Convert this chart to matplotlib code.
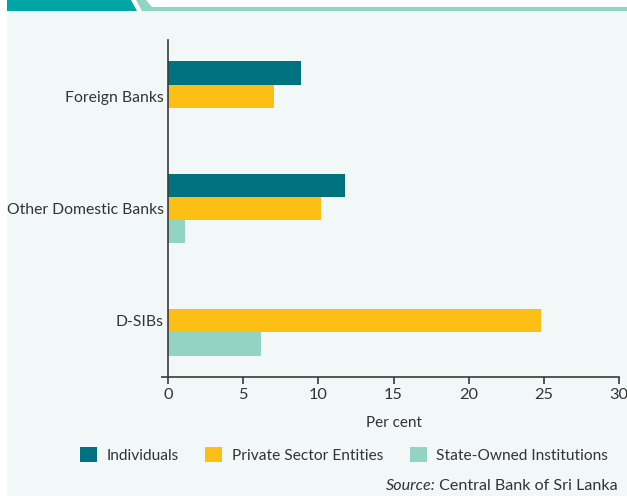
import matplotlib
matplotlib.use("Agg")
import matplotlib.pyplot as plt
from matplotlib.patches import Polygon, Rectangle, Patch

# ==========================================
# DATA
# ==========================================

categories = ["D-SIBs", "Other Domestic Banks", "Foreign Banks"]
individuals = [0, 11.8, 8.85]
private_sector = [24.8, 10.2, 7.05]
state_owned = [6.2, 1.15, 0]

series_names = ["Individuals", "Private Sector Entities", "State-Owned Institutions"]
x_ticks = [0, 5, 10, 15, 20, 25, 30]

# ==========================================
# THEME
# ==========================================

BACKGROUND = "#F2F8F8"
TEAL_DARK = "#00717F"
YELLOW = "#FDBF15"
TEAL_LIGHT = "#93D3C4"
HEADER = "#00A6A5"
TEXT = "#333333"
AXIS = "#3A3A3A"

plt.rcParams["font.family"] = ["Lato", "DejaVu Sans"]

W, H = 627, 496
fig = plt.figure(figsize=(W / 100, H / 100), dpi=100, facecolor="white")


def px(x, y):
    return (x / W, 1 - y / H)


# background panel + header strip
fig.patches.append(Rectangle(px(7, H), (W - 7) / W, (H - 11) / H,
                             transform=fig.transFigure, facecolor=BACKGROUND,
                             edgecolor="none", zorder=-2))
fig.patches.append(Polygon([px(7, 0), px(131, 0), px(137, 11), px(7, 11)],
                           closed=True, transform=fig.transFigure,
                           facecolor=HEADER, edgecolor="none", zorder=-1))
fig.patches.append(Polygon([px(136, 0), px(146, 0), px(152, 7), px(W, 7),
                            px(W, 11), px(142, 11)],
                           closed=True, transform=fig.transFigure,
                           facecolor=TEAL_LIGHT, edgecolor="none", zorder=-1))

# ==========================================
# CHART
# ==========================================

ax = fig.add_axes([168 / W, 1 - 377 / H, (619 - 168) / W, (377 - 40) / H])
ax.set_facecolor("none")

h = 0.206
pos = list(range(len(categories)))

ax.barh([p + h for p in pos], individuals, height=h, color=TEAL_DARK)
ax.barh(pos, private_sector, height=h, color=YELLOW)
ax.barh([p - h for p in pos], state_owned, height=h, color=TEAL_LIGHT)

ax.set_xlim(0, 30)
ax.set_ylim(-0.5, 2.5)

ax.set_xticks(x_ticks)
ax.set_xticklabels([str(t) for t in x_ticks], fontsize=11.8, color=TEXT)
ax.set_yticks(pos)
ax.set_yticklabels(categories, fontsize=11.3, color=TEXT)
ax.set_yticks([-0.5], minor=True)

ax.tick_params(axis="x", direction="out", length=5, width=1.2, color=AXIS, pad=3)
ax.tick_params(axis="y", which="major", length=0, pad=3)
ax.tick_params(axis="y", which="minor", direction="out", length=5, width=1.2, color=AXIS)

ax.spines["top"].set_visible(False)
ax.spines["right"].set_visible(False)
ax.spines["left"].set_color(AXIS)
ax.spines["bottom"].set_color(AXIS)
ax.spines["left"].set_linewidth(1.2)
ax.spines["bottom"].set_linewidth(1.2)

ax.set_xlabel("Per cent", fontsize=11, color=TEXT, labelpad=10)

# ==========================================
# LEGEND
# ==========================================

handles = [Patch(facecolor=c, edgecolor="none")
           for c in [TEAL_DARK, YELLOW, TEAL_LIGHT]]
fig.legend(handles, series_names, loc="center",
           bbox_to_anchor=px(344, 455), ncol=3, frameon=False,
           fontsize=11.2, handlelength=1.1, handleheight=1.1,
           handletextpad=0.6, columnspacing=1.7, labelcolor=TEXT)

# ==========================================
# SOURCE
# ==========================================

src = fig.text(618 / W, 1 - 486 / H, " Central Bank of Sri Lanka",
               ha="right", va="center", fontsize=11.6, color=TEXT)
fig.canvas.draw()
bb = src.get_window_extent()
fig.text(bb.x0 / W, 1 - 486 / H, "Source:", ha="right", va="center",
         fontsize=11.6, color=TEXT, style="italic")

# ==========================================
# SAVE
# ==========================================

fig.savefig("out.png", dpi=100, facecolor="white")
plt.close()
